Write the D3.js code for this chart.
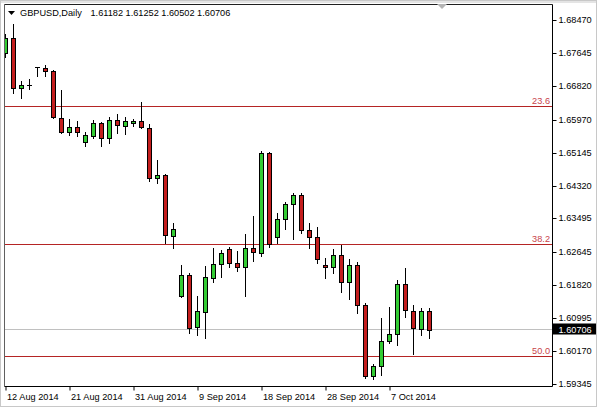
<!DOCTYPE html>
<html><head><meta charset="utf-8">
<script src="https://cdn.jsdelivr.net/npm/d3@7"></script>
<style>
html,body{margin:0;padding:0;background:#fff;}
svg{display:block;font-family:"Liberation Sans",Arial,sans-serif;}
</style></head>
<body>
<script>
const symbol = "GBPUSD,Daily";
const dates = ["12 Aug 2014","13 Aug 2014","14 Aug 2014","15 Aug 2014","17 Aug 2014","18 Aug 2014","19 Aug 2014","20 Aug 2014",
"21 Aug 2014","22 Aug 2014","24 Aug 2014","25 Aug 2014","26 Aug 2014","27 Aug 2014","28 Aug 2014","29 Aug 2014",
"31 Aug 2014","1 Sep 2014","2 Sep 2014","3 Sep 2014","4 Sep 2014","5 Sep 2014","7 Sep 2014","8 Sep 2014",
"9 Sep 2014","10 Sep 2014","11 Sep 2014","12 Sep 2014","14 Sep 2014","15 Sep 2014","16 Sep 2014","17 Sep 2014",
"18 Sep 2014","19 Sep 2014","21 Sep 2014","22 Sep 2014","23 Sep 2014","24 Sep 2014","25 Sep 2014","26 Sep 2014",
"28 Sep 2014","29 Sep 2014","30 Sep 2014","1 Oct 2014","2 Oct 2014","3 Oct 2014","5 Oct 2014","6 Oct 2014",
"7 Oct 2014","8 Oct 2014","9 Oct 2014","10 Oct 2014","12 Oct 2014","13 Oct 2014"];
const open = [1.67635,1.68011,1.66758,1.66833,1.67285,1.67259,1.67191,1.66006,1.65655,1.65788,1.65419,1.65570,1.65880,1.65504,1.65963,1.65813,1.65888,1.65938,1.65770,1.64502,1.64584,1.63063,1.61551,1.62077,1.60766,1.61157,1.62010,1.62346,1.62729,1.62371,1.62286,1.62747,1.62636,1.65143,1.63022,1.63489,1.63850,1.64083,1.63206,1.63038,1.62321,1.62270,1.62571,1.61902,1.62321,1.61325,1.59545,1.59796,1.60415,1.60598,1.61852,1.61167,1.60716,1.61182];
const high = [1.68112,1.68370,1.66941,1.66983,1.67285,1.67334,1.67217,1.66715,1.65981,1.65938,1.65655,1.65963,1.65921,1.66031,1.66106,1.66046,1.65988,1.66422,1.65863,1.64960,1.64602,1.63389,1.62328,1.62120,1.61551,1.62303,1.62747,1.62704,1.62772,1.62679,1.63098,1.63557,1.65194,1.65161,1.63639,1.63907,1.64141,1.64126,1.63389,1.63288,1.62496,1.62722,1.62830,1.62486,1.62403,1.61383,1.59846,1.61007,1.61283,1.61952,1.62260,1.61325,1.61243,1.61252];
const low = [1.67535,1.66648,1.66522,1.66733,1.67074,1.67066,1.66013,1.65630,1.65587,1.65562,1.65311,1.65504,1.65319,1.65394,1.65630,1.65605,1.65820,1.65755,1.64441,1.64376,1.62872,1.62747,1.61533,1.60631,1.60573,1.60491,1.61909,1.62020,1.62286,1.62185,1.61559,1.62436,1.62554,1.62787,1.62872,1.63223,1.62987,1.63123,1.62747,1.62371,1.61995,1.62120,1.61644,1.61468,1.61117,1.59503,1.59478,1.59570,1.60380,1.60315,1.61032,1.60089,1.60573,1.60502];
const close = [1.68011,1.66758,1.66841,1.66830,1.67280,1.67191,1.66031,1.65655,1.65788,1.65662,1.65587,1.65880,1.65504,1.65963,1.65830,1.65938,1.65938,1.65795,1.64502,1.64584,1.63073,1.63223,1.62077,1.60741,1.61175,1.62020,1.62346,1.62621,1.62371,1.62286,1.62747,1.62647,1.65143,1.62847,1.63489,1.63850,1.64083,1.63206,1.63038,1.62471,1.62270,1.62571,1.61902,1.62321,1.61318,1.59545,1.59796,1.60423,1.60598,1.61852,1.61193,1.60741,1.61167,1.60706];
const priceTicks = [1.68470,1.67645,1.66820,1.65970,1.65145,1.64320,1.63495,1.62645,1.61820,1.60995,1.60170,1.59345];
const dateTicks = ["12 Aug 2014","21 Aug 2014","31 Aug 2014","9 Sep 2014","18 Sep 2014","28 Sep 2014","7 Oct 2014"];
const fibLevels = [1.66307,1.62847,1.60035];
const fibLabels = ["23.6","38.2","50.0"];

const W = 597, H = 407;
const plotL = 4.5, plotR = 552.5, plotT = 4.5, plotB = 386.5;
const FS = "9.2px";
const bull = "#33cc33", bear = "#c41e1e", fibColor = "#b52424";

const svg = d3.select("body").append("svg").attr("width", W).attr("height", H);

// window frame
svg.append("rect").attr("x",0).attr("y",0).attr("width",W).attr("height",3).attr("fill","#e4e4e4");
svg.append("rect").attr("x",0.5).attr("y",0.5).attr("width",W-1).attr("height",H-1).attr("fill","none").attr("stroke","#c8c8c8");

const x = d3.scalePoint().domain(dates).range([5.5, 429.5]);
const y = d3.scaleLinear().domain([1.59345, 1.68470]).range([384, 20]);

svg.append("defs").append("clipPath").attr("id","plot")
  .append("rect").attr("x",plotL+0.5).attr("y",plotT+0.5).attr("width",plotR-plotL-1).attr("height",plotB-plotT-1);

// current price line
const last = dates.length - 1;
const cy = Math.floor(y(close[last])) + 0.5;
svg.append("line").attr("x1",plotL).attr("x2",plotR).attr("y1",cy).attr("y2",cy)
  .attr("stroke","#c0c0c0").attr("stroke-width",1);

// fib lines
fibLevels.forEach((lv,i)=>{
  const fy = Math.round(y(lv)) + 0.5;
  svg.append("line").attr("x1",plotL).attr("x2",plotR).attr("y1",fy).attr("y2",fy)
    .attr("stroke",fibColor).attr("stroke-width",1);
  svg.append("text").attr("x",550).attr("y",fy-3).attr("text-anchor","end")
    .attr("font-size",FS).attr("fill","#c8444a").text(fibLabels[i]);
});

// candles
const g = svg.append("g").attr("clip-path","url(#plot)");
const bars = dates.map((d,i)=>({d, o:open[i], h:high[i], l:low[i], c:close[i]}));
bars.forEach(b=>{
  const cx = x(b.d);
  g.append("line").attr("x1",cx).attr("x2",cx)
    .attr("y1",Math.round(y(b.h))).attr("y2",Math.round(y(b.l))+1)
    .attr("stroke","#000").attr("stroke-width",1);
  const top = Math.round(y(Math.max(b.o,b.c)));
  const bot = Math.round(y(Math.min(b.o,b.c)));
  if (bot - top < 1) {
    g.append("line").attr("x1",cx-2.5).attr("x2",cx+2.5).attr("y1",top+0.5).attr("y2",top+0.5)
      .attr("stroke","#000").attr("stroke-width",1);
  } else {
    g.append("rect").attr("x",cx-2).attr("y",top+0.5).attr("width",4).attr("height",bot-top)
      .attr("fill", b.c >= b.o ? bull : bear).attr("stroke","#000").attr("stroke-width",1);
  }
});

// frame of plot
svg.append("line").attr("x1",plotL).attr("x2",plotL).attr("y1",plotT).attr("y2",plotB).attr("stroke","#606060");
svg.append("line").attr("x1",plotL).attr("x2",plotR).attr("y1",plotT).attr("y2",plotT).attr("stroke","#202020");
svg.append("line").attr("x1",plotR).attr("x2",plotR).attr("y1",plotT).attr("y2",plotB).attr("stroke","#000");
svg.append("line").attr("x1",plotL).attr("x2",plotR).attr("y1",plotB).attr("y2",plotB).attr("stroke","#000");

// right axis
const ya = svg.append("g").attr("transform",`translate(${plotR},0)`)
  .call(d3.axisRight(y).tickValues(priceTicks).tickSize(4).tickPadding(2).tickFormat(d3.format(".5f")));
ya.select(".domain").remove();
ya.selectAll("text").attr("font-size",FS).attr("font-family","Liberation Sans, Arial, sans-serif").attr("fill","#000");
ya.selectAll(".tick").attr("transform", d=>`translate(0,${Math.round(y(d))+0.5})`);

// current price label
svg.append("rect").attr("x",plotR+0.5).attr("y",cy-6).attr("width",43).attr("height",11).attr("fill","#000");
svg.append("text").attr("x",558.5).attr("y",cy).attr("dy","0.34em").attr("font-size",FS)
  .attr("fill","#fff").text(d3.format(".5f")(close[last]));

// bottom axis
const xa = svg.append("g").attr("transform",`translate(0,${plotB})`)
  .call(d3.axisBottom(x).tickValues(dateTicks).tickSize(4).tickPadding(3));
xa.select(".domain").remove();
xa.selectAll("text").attr("text-anchor","start").attr("x",1).attr("font-size",FS)
  .attr("font-family","Liberation Sans, Arial, sans-serif").attr("fill","#000");

// header
svg.append("path").attr("d","M8,11 L15,11 L11.5,15 Z").attr("fill","#000");
svg.append("text").attr("x",20).attr("y",16).attr("font-size",FS).attr("fill","#000").text(symbol);
svg.append("text").attr("x",90.5).attr("y",16).attr("font-size",FS).attr("fill","#000")
  .text([open[last],high[last],low[last],close[last]].map(d3.format(".5f")).join(" "));

// shift marker
svg.append("path").attr("d","M437,4 L447,4 L442,9 Z").attr("fill","#b4b4b4");
</script>
</body></html>
